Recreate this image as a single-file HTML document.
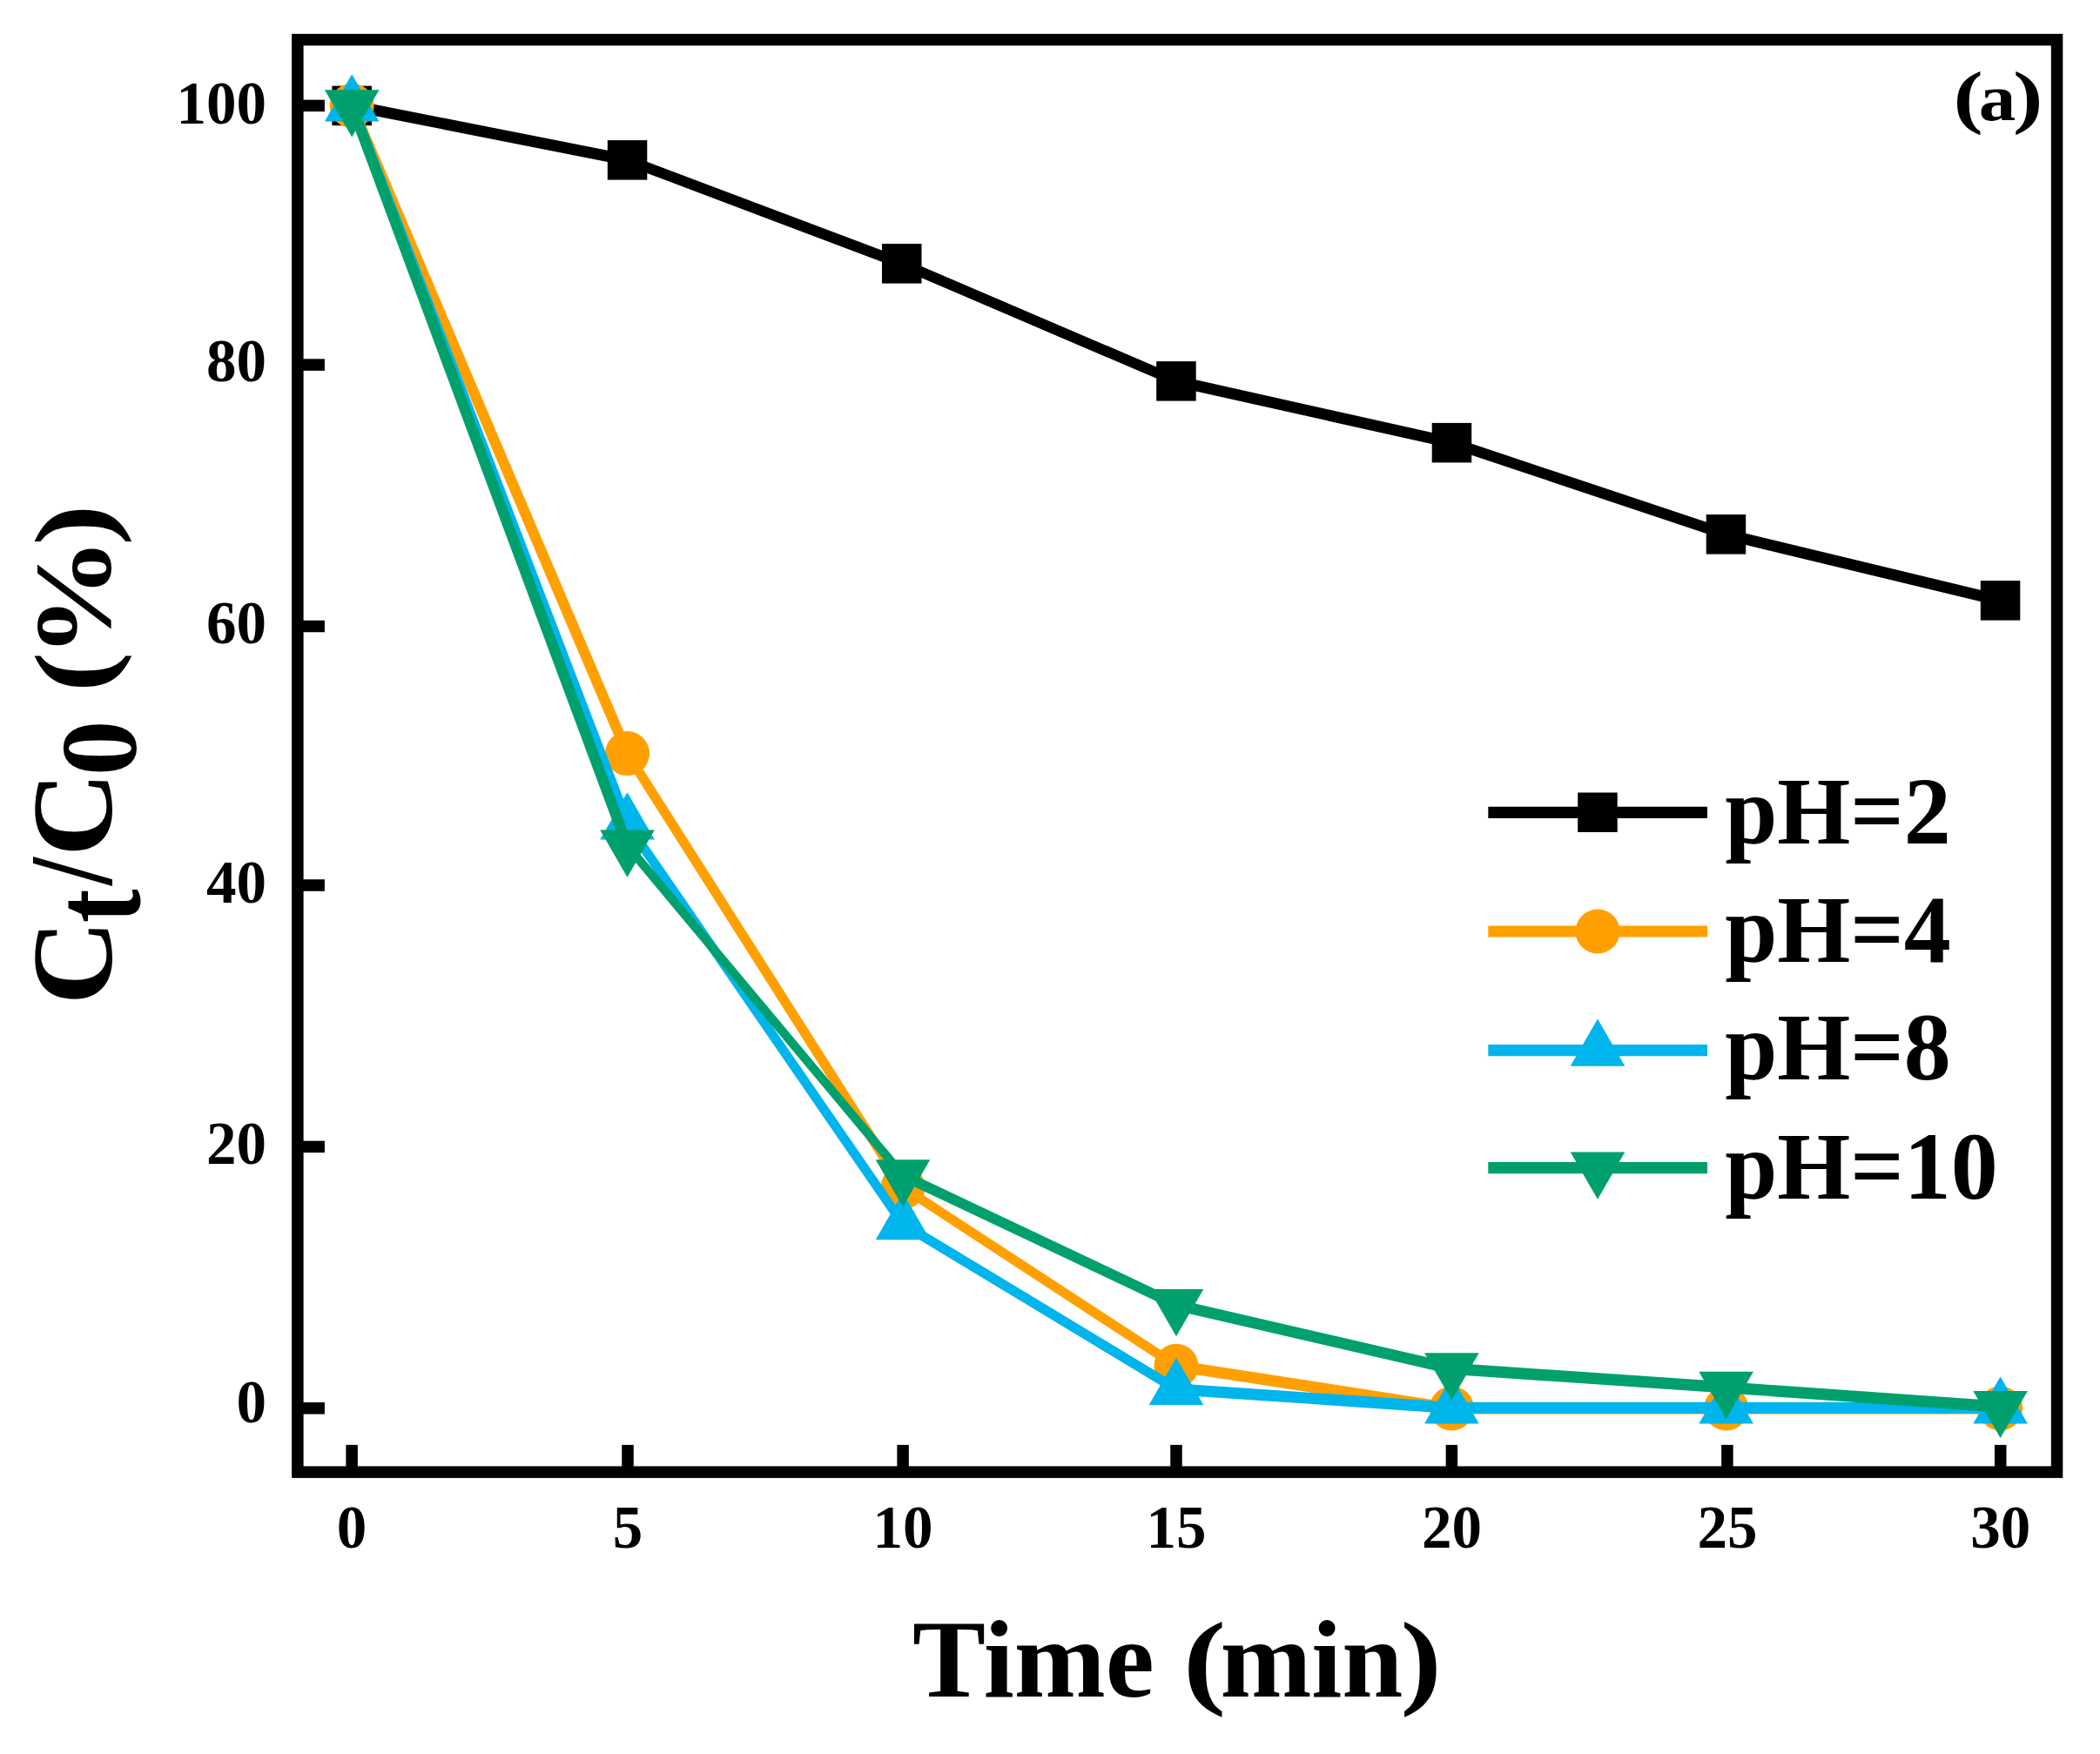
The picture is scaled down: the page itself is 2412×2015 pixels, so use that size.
<!DOCTYPE html>
<html><head><meta charset="utf-8"><title>Ct/C0 vs Time</title>
<style>
html,body{margin:0;padding:0;background:#fff;}
svg{display:block;}
text{font-family:"Liberation Serif",serif;font-weight:bold;fill:#000;}
</style></head><body>
<svg width="2412" height="2015" viewBox="0 0 2412 2015">
<rect x="0" y="0" width="2412" height="2015" fill="#fff"/>
<rect x="341.85" y="45.65" width="2020.70" height="1645.50" fill="none" stroke="#000" stroke-width="13.5"/>
<rect x="347.6" y="114.65" width="25.3" height="13.5" fill="#000"/>
<text x="306" y="141.7" font-size="69" text-anchor="end">100</text>
<rect x="347.6" y="412.35" width="25.3" height="13.5" fill="#000"/>
<text x="306" y="438.3" font-size="69" text-anchor="end">80</text>
<rect x="347.6" y="712.75" width="25.3" height="13.5" fill="#000"/>
<text x="306" y="738.9" font-size="69" text-anchor="end">60</text>
<rect x="347.6" y="1010.25" width="25.3" height="13.5" fill="#000"/>
<text x="306" y="1036.7" font-size="69" text-anchor="end">40</text>
<rect x="347.6" y="1310.65" width="25.3" height="13.5" fill="#000"/>
<text x="306" y="1337.0" font-size="69" text-anchor="end">20</text>
<rect x="347.6" y="1611.05" width="25.3" height="13.5" fill="#000"/>
<text x="306" y="1634.3" font-size="69" text-anchor="end">0</text>
<rect x="397.35" y="1659.9" width="13.5" height="25.5" fill="#000"/>
<text x="404.1" y="1778" font-size="69" text-anchor="middle">0</text>
<rect x="714.25" y="1659.9" width="13.5" height="25.5" fill="#000"/>
<text x="721.0" y="1778" font-size="69" text-anchor="middle">5</text>
<rect x="1030.35" y="1659.9" width="13.5" height="25.5" fill="#000"/>
<text x="1037.1" y="1778" font-size="69" text-anchor="middle">10</text>
<rect x="1344.25" y="1659.9" width="13.5" height="25.5" fill="#000"/>
<text x="1351.0" y="1778" font-size="69" text-anchor="middle">15</text>
<rect x="1660.65" y="1659.9" width="13.5" height="25.5" fill="#000"/>
<text x="1667.4" y="1778" font-size="69" text-anchor="middle">20</text>
<rect x="1977.15" y="1659.9" width="13.5" height="25.5" fill="#000"/>
<text x="1983.9" y="1778" font-size="69" text-anchor="middle">25</text>
<rect x="2290.95" y="1659.9" width="13.5" height="25.5" fill="#000"/>
<text x="2297.7" y="1778" font-size="69" text-anchor="middle">30</text>
<polygon points="404.2,114.8 720.5,177.2 720.5,190.4 404.2,128.0" fill="#000"/>
<polygon points="720.5,177.2 1035.8,296.3 1035.8,309.5 720.5,190.4" fill="#000"/>
<polygon points="1035.8,296.3 1351.0,431.3 1351.0,444.5 1035.8,309.5" fill="#000"/>
<polygon points="1351.0,431.3 1667.4,502.0 1667.4,515.2 1351.0,444.5" fill="#000"/>
<polygon points="1667.4,502.0 1982.4,607.3 1982.4,620.5 1667.4,515.2" fill="#000"/>
<polygon points="1982.4,607.3 2297.6,683.3 2297.6,696.5 1982.4,620.5" fill="#000"/>
<rect x="381.4" y="98.7" width="45.5" height="45.5" fill="#000"/>
<rect x="697.8" y="161.1" width="45.5" height="45.5" fill="#000"/>
<rect x="1013.0" y="280.1" width="45.5" height="45.5" fill="#000"/>
<rect x="1328.2" y="415.1" width="45.5" height="45.5" fill="#000"/>
<rect x="1644.7" y="485.9" width="45.5" height="45.5" fill="#000"/>
<rect x="1959.7" y="591.1" width="45.5" height="45.5" fill="#000"/>
<rect x="2274.8" y="667.1" width="45.5" height="45.5" fill="#000"/>
<polygon points="397.6,121.4 713.9,865.6 727.1,865.6 410.8,121.4" fill="#FFA000"/>
<polygon points="713.9,865.6 1030.4,1364.0 1043.6,1364.0 727.1,865.6" fill="#FFA000"/>
<polygon points="1037.0,1357.4 1351.0,1562.6 1351.0,1575.8 1037.0,1370.6" fill="#FFA000"/>
<polygon points="1351.0,1562.6 1667.4,1611.4 1667.4,1624.6 1351.0,1575.8" fill="#FFA000"/>
<polygon points="1667.4,1611.4 1982.6,1611.4 1982.6,1624.6 1667.4,1624.6" fill="#FFA000"/>
<polygon points="1982.6,1611.4 2297.6,1611.4 2297.6,1624.6 1982.6,1624.6" fill="#FFA000"/>
<circle cx="404.2" cy="121.4" r="25.5" fill="#FFA000"/>
<circle cx="720.5" cy="865.6" r="25.5" fill="#FFA000"/>
<circle cx="1037.0" cy="1364.0" r="25.5" fill="#FFA000"/>
<circle cx="1351.0" cy="1569.2" r="25.5" fill="#FFA000"/>
<circle cx="1667.4" cy="1618.0" r="25.5" fill="#FFA000"/>
<circle cx="1982.6" cy="1618.0" r="25.5" fill="#FFA000"/>
<circle cx="2297.6" cy="1618.0" r="25.5" fill="#FFA000"/>
<polygon points="397.6,121.4 713.9,946.4 727.1,946.4 410.8,121.4" fill="#00B4EC"/>
<polygon points="713.9,946.4 1030.4,1406.1 1043.6,1406.1 727.1,946.4" fill="#00B4EC"/>
<polygon points="1037.0,1399.5 1351.0,1589.2 1351.0,1602.4 1037.0,1412.7" fill="#00B4EC"/>
<polygon points="1351.0,1589.2 1667.4,1610.8 1667.4,1624.0 1351.0,1602.4" fill="#00B4EC"/>
<polygon points="1667.4,1610.8 1982.6,1610.8 1982.6,1624.0 1667.4,1624.0" fill="#00B4EC"/>
<polygon points="1982.6,1610.8 2297.6,1610.9 2297.6,1624.1 1982.6,1624.0" fill="#00B4EC"/>
<polygon points="404.2,85.3 372.9,139.5 435.5,139.5" fill="#00B4EC"/>
<polygon points="720.5,910.3 689.2,964.5 751.8,964.5" fill="#00B4EC"/>
<polygon points="1037.0,1370.0 1005.7,1424.2 1068.3,1424.2" fill="#00B4EC"/>
<polygon points="1351.0,1559.7 1319.7,1613.9 1382.3,1613.9" fill="#00B4EC"/>
<polygon points="1667.4,1581.3 1636.1,1635.5 1698.7,1635.5" fill="#00B4EC"/>
<polygon points="1982.6,1581.3 1951.3,1635.5 2013.9,1635.5" fill="#00B4EC"/>
<polygon points="2297.6,1581.4 2266.3,1635.6 2328.9,1635.6" fill="#00B4EC"/>
<polygon points="397.6,121.4 713.9,971.6 727.1,971.6 410.8,121.4" fill="#00A06E"/>
<polygon points="713.9,971.6 1030.4,1350.3 1043.6,1350.3 727.1,971.6" fill="#00A06E"/>
<polygon points="1037.0,1343.7 1351.0,1492.5 1351.0,1505.7 1037.0,1356.9" fill="#00A06E"/>
<polygon points="1351.0,1492.5 1667.4,1565.8 1667.4,1579.0 1351.0,1505.7" fill="#00A06E"/>
<polygon points="1667.4,1565.8 1982.6,1587.3 1982.6,1600.5 1667.4,1579.0" fill="#00A06E"/>
<polygon points="1982.6,1587.3 2297.6,1609.4 2297.6,1622.6 1982.6,1600.5" fill="#00A06E"/>
<polygon points="404.2,157.5 372.9,103.3 435.5,103.3" fill="#00A06E"/>
<polygon points="720.5,1007.7 689.2,953.5 751.8,953.5" fill="#00A06E"/>
<polygon points="1037.0,1386.4 1005.7,1332.2 1068.3,1332.2" fill="#00A06E"/>
<polygon points="1351.0,1535.2 1319.7,1481.0 1382.3,1481.0" fill="#00A06E"/>
<polygon points="1667.4,1608.5 1636.1,1554.3 1698.7,1554.3" fill="#00A06E"/>
<polygon points="1982.6,1630.0 1951.3,1575.8 2013.9,1575.8" fill="#00A06E"/>
<polygon points="2297.6,1652.1 2266.3,1597.9 2328.9,1597.9" fill="#00A06E"/>
<line x1="1709.3" y1="933.3" x2="1961" y2="933.3" stroke="#000" stroke-width="13.2"/>
<rect x="1812.2" y="910.5" width="45.5" height="45.5" fill="#000"/>
<text transform="translate(1981.2,969.3) scale(0.982,1)" font-size="110">pH=2</text>
<line x1="1709.3" y1="1070.0" x2="1961" y2="1070.0" stroke="#FFA000" stroke-width="13.2"/>
<circle cx="1835.0" cy="1070.0" r="25.5" fill="#FFA000"/>
<text transform="translate(1981.2,1105.0) scale(0.982,1)" font-size="110">pH=4</text>
<line x1="1709.3" y1="1206.7" x2="1961" y2="1206.7" stroke="#00B4EC" stroke-width="13.2"/>
<polygon points="1835.0,1170.6 1803.7,1224.8 1866.3,1224.8" fill="#00B4EC"/>
<text transform="translate(1981.2,1240.0) scale(0.982,1)" font-size="110">pH=8</text>
<line x1="1709.3" y1="1341.7" x2="1961" y2="1341.7" stroke="#00A06E" stroke-width="13.2"/>
<polygon points="1835.0,1377.8 1803.7,1323.6 1866.3,1323.6" fill="#00A06E"/>
<text transform="translate(1981.2,1377.3) scale(0.982,1)" font-size="110">pH=10</text>
<g><title>(a)</title>
<text transform="translate(2243.48,137.82) scale(1.2849,0.9967)" font-size="80">(</text>
<text transform="translate(2272.66,137.75) scale(1.0632,0.9577)" font-size="80">a</text>
<text transform="translate(2311.96,137.82) scale(1.2946,0.9967)" font-size="80">)</text>
</g>
<g><title>Time (min)</title>
<text x="1048.03" y="1948.6" font-size="126">Time</text>
<text transform="translate(1358.86,1947.03) scale(1.1804,0.9646)" font-size="126">(</text>
<text x="1401.41" y="1948.6" font-size="126">min</text>
<text transform="translate(1608.52,1947.03) scale(1.1279,0.9646)" font-size="126">)</text>
</g>
<g><title>Ct/C0 (%)</title>
<text transform="translate(128.01,1154.37) rotate(-90) scale(1.0685,1.0501)" font-size="126">C</text>
<text transform="translate(159.88,1059.96) rotate(-90) scale(0.9168,1.1515)" font-size="126">t</text>
<text transform="translate(127.97,1017.08) rotate(-90) scale(0.9086,1.0804)" font-size="126">/</text>
<text transform="translate(128.01,983.85) rotate(-90) scale(1.0645,1.0501)" font-size="126">C</text>
<text transform="translate(156.08,891.36) rotate(-90) scale(1.0131,0.9950)" font-size="126">0</text>
<text transform="translate(125.10,795.06) rotate(-90) scale(1.0939,0.9768)" font-size="126">(</text>
<text transform="translate(125.74,755.45) rotate(-90) scale(1.0951,0.9993)" font-size="126">%</text>
<text transform="translate(125.10,626.54) rotate(-90) scale(1.1186,0.9768)" font-size="126">)</text>
</g>
</svg></body></html>
